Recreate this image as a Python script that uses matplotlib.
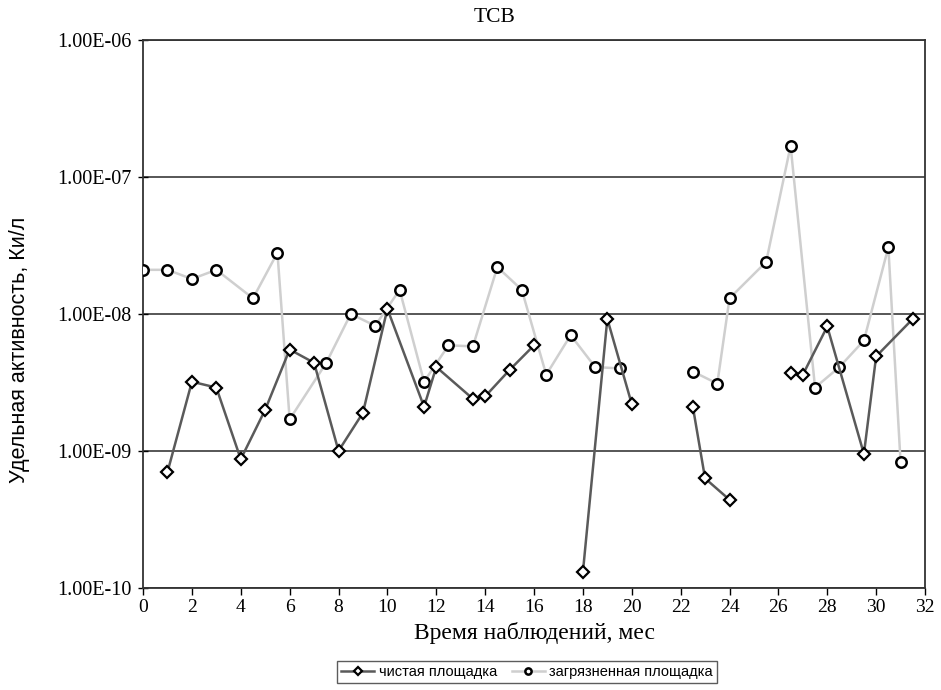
import numpy as np
import matplotlib
matplotlib.use("Agg")
import matplotlib.pyplot as plt
from matplotlib.ticker import FuncFormatter, FixedLocator, NullLocator

nan = np.nan

# Clean site (чистая площадка)
clean_x = [1, 2, 3, 4, 5, 6, 7, 8, 9, 10, 11.5, 12, 13.5, 14, 15, 16, 17,
           18, 19, 20, 21, 22.5, 23, 24, 25, 26.5, 27, 28, 29.5, 30, 31.5]
clean_y = [7.0e-10, 3.2e-9, 2.9e-9, 8.7e-10, 2.0e-9, 5.5e-9, 4.4e-9, 1.0e-9,
           1.9e-9, 1.09e-8, 2.1e-9, 4.1e-9, 2.4e-9, 2.5e-9, 3.9e-9, 5.9e-9, nan,
           1.3e-10, 9.2e-9, 2.2e-9, nan, 2.1e-9, 6.3e-10, 4.4e-10, nan,
           3.7e-9, 3.6e-9, 8.1e-9, 9.5e-10, 4.9e-9, 9.2e-9]

# Polluted site (загрязненная площадка)
dirty_x = [0, 1, 2, 3, 4.5, 5.5, 6, 7.5, 8.5, 9.5, 10.5, 11.5, 12.5, 13.5,
           14.5, 15.5, 16.5, 17.5, 18.5, 19.5, 21, 22.5, 23.5, 24, 25.5, 26.5,
           27.5, 28.5, 29.5, 30.5, 31]
dirty_y = [2.1e-8, 2.1e-8, 1.8e-8, 2.1e-8, 1.3e-8, 2.8e-8, 1.7e-9, 4.4e-9,
           1.0e-8, 8.2e-9, 1.5e-8, 3.2e-9, 5.9e-9, 5.8e-9, 2.2e-8, 1.5e-8,
           3.6e-9, 7.0e-9, 4.1e-9, 4.0e-9, nan, 3.8e-9, 3.1e-9, 1.3e-8,
           2.4e-8, 1.69e-7, 2.9e-9, 4.1e-9, 6.4e-9, 3.07e-8, 8.3e-10]

x_ticks = list(range(0, 33, 2))
y_ticks = [1e-10, 1e-9, 1e-8, 1e-7, 1e-6]

title = "TCB"
xlabel = "Время наблюдений, мес"
ylabel = "Удельная активность, Ки/л"
labels = ["чистая площадка", "загрязненная площадка"]

serif = ["Liberation Serif", "DejaVu Serif"]
narrow = ["Liberation Sans Narrow", "Liberation Sans", "DejaVu Sans"]

fig = plt.figure(figsize=(9.41, 6.9), dpi=100)
ax = fig.add_axes([0.152, 0.148, 0.831, 0.794])

ax.plot(dirty_x, dirty_y, color="#cfcfcf", lw=1.8, marker="o", ms=7.5,
        mfc="white", mec="black", mew=1.8, label=labels[1], zorder=3)
ax.plot(clean_x, clean_y, color="#5a5a5a", lw=1.8, marker="D", ms=6.5,
        mfc="white", mec="black", mew=1.6, label=labels[0], zorder=4)

ax.set_yscale("log")
ax.set_ylim(1e-10, 1e-6)
ax.set_xlim(0, 32)
ax.yaxis.set_major_locator(FixedLocator(y_ticks))
ax.yaxis.set_minor_locator(NullLocator())
ax.yaxis.set_major_formatter(FuncFormatter(lambda v, p: f"{v:.2E}"))
ax.set_xticks(x_ticks)

for yv in y_ticks:
    ax.axhline(yv, color="#3a3a3a", lw=1.2, zorder=1)

for s in ax.spines.values():
    s.set_color("#333333")
    s.set_linewidth(1.3)

ax.tick_params(axis="y", direction="inout", length=7, width=1, labelsize=14.5, pad=5)
ax.tick_params(axis="x", direction="out", length=5, width=1, labelsize=14, pad=3)
for lbl in ax.get_xticklabels() + ax.get_yticklabels():
    lbl.set_family(serif)

fig.text(495 / 941, 1 - 18 / 690, title, family=serif, fontsize=15.5,
         ha="center", va="center")
ax.set_xlabel(xlabel, family=serif, fontsize=17, labelpad=4)
fig.text(20 / 941, 1 - 350 / 690, ylabel, family=narrow, fontsize=15.5,
         rotation=90, ha="center", va="center")

h, l = ax.get_legend_handles_labels()
leg = fig.legend(h[::-1], l[::-1], loc="center", bbox_to_anchor=(0.56, 0.026),
                 ncol=2, frameon=True, fancybox=False, edgecolor="#333333",
                 prop={"family": ["Liberation Sans", "DejaVu Sans"], "size": 10.5},
                 handlelength=2.3, handletextpad=0.3, columnspacing=1.0,
                 borderpad=0.25, markerscale=0.6)
leg.get_frame().set_linewidth(1.0)

fig.savefig("out.png", dpi=100, facecolor="white")
